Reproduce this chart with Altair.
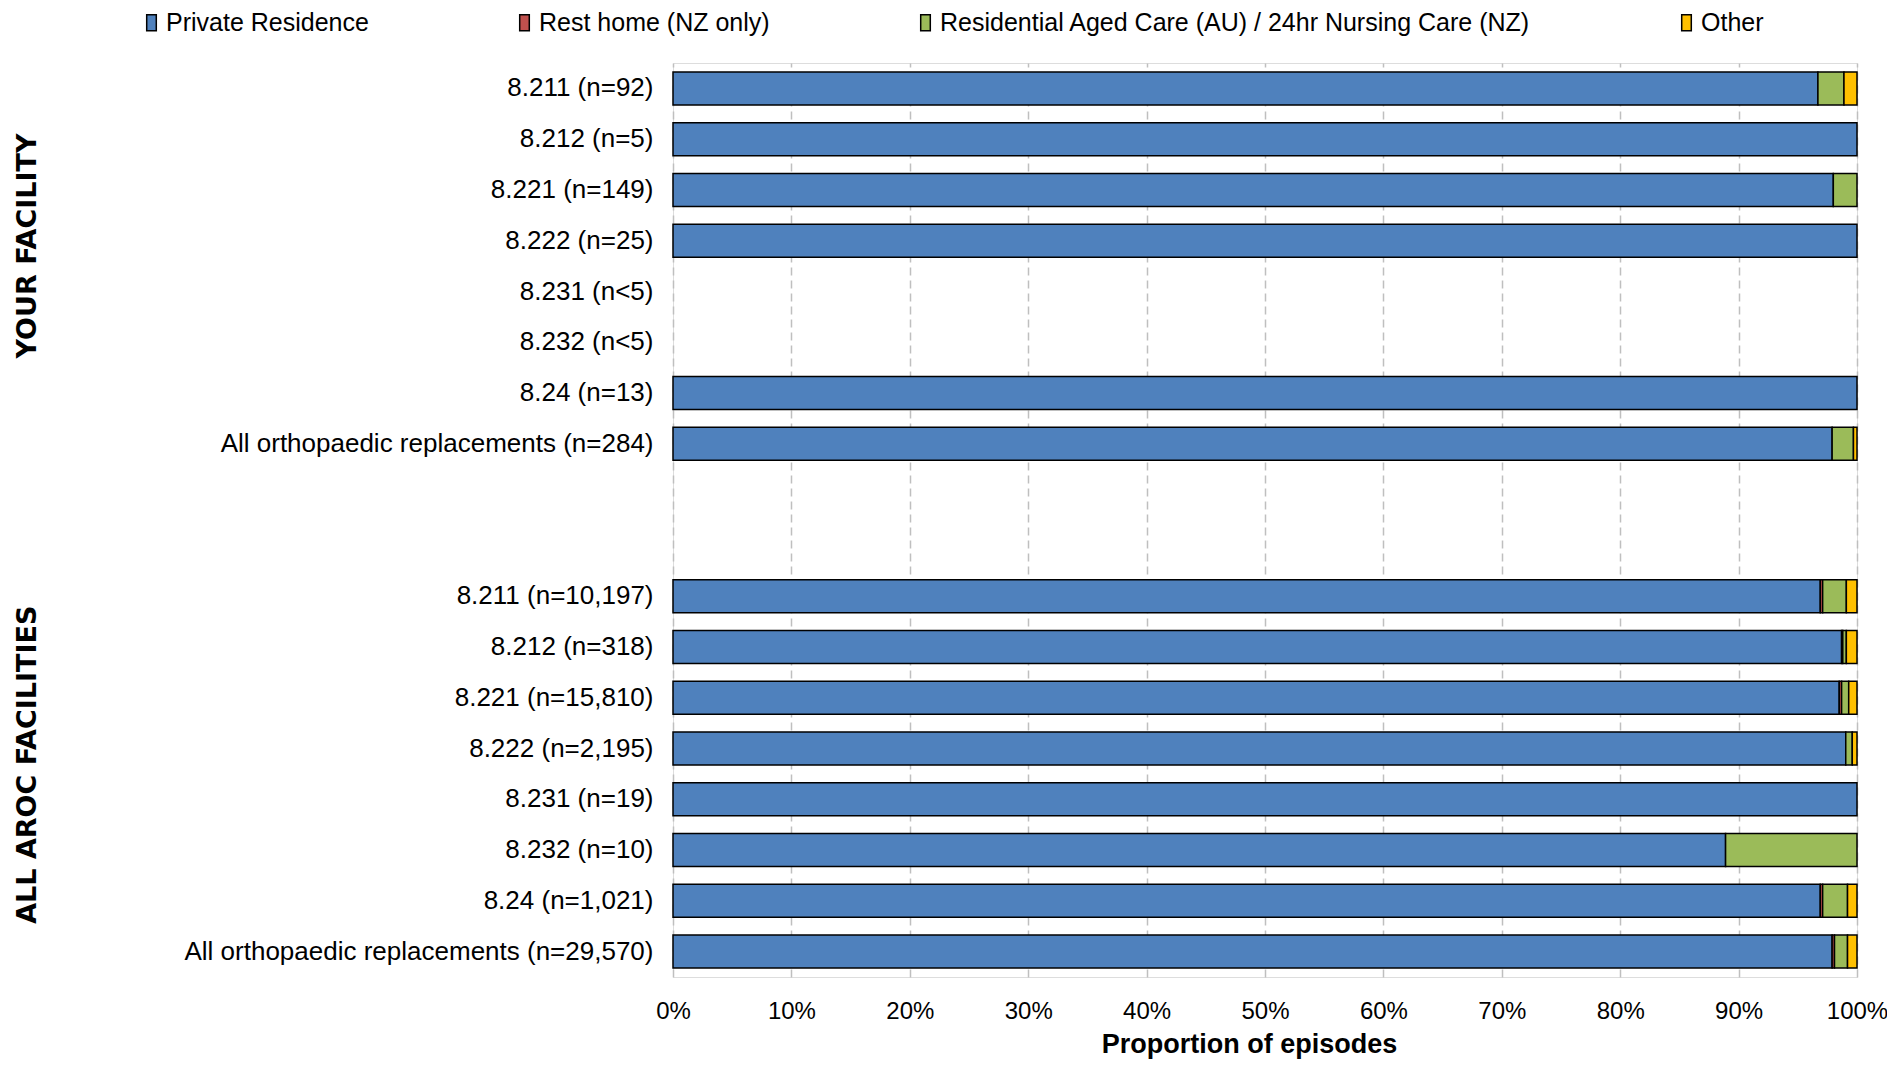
import altair as alt
import pandas as pd

categories = [
    "8.211 (n=92)", "8.212 (n=5)", "8.221 (n=149)", "8.222 (n=25)",
    "8.231 (n<5)", "8.232 (n<5)", "8.24 (n=13)", "All orthopaedic replacements (n=284)",
    " ", "  ",
    "8.211 (n=10,197)", "8.212 (n=318)", "8.221 (n=15,810)", "8.222 (n=2,195)",
    "8.231 (n=19)", "8.232 (n=10)", "8.24 (n=1,021)", "All orthopaedic replacements (n=29,570)",
]
series = ["Private Residence", "Rest home (NZ only)",
          "Residential Aged Care (AU) / 24hr Nursing Care (NZ)", "Other"]
colors = ["#4F81BD", "#C0504D", "#9BBB59", "#FFC000"]

private_residence = [96.7, 100, 98.0, 100, 0, 0, 100, 97.9, 0, 0,
                     96.9, 98.7, 98.5, 99.05, 100, 88.9, 96.9, 97.9]
rest_home = [0, 0, 0, 0, 0, 0, 0, 0, 0, 0,
             0.2, 0.1, 0.2, 0, 0, 0, 0.2, 0.2]
residential_care = [2.2, 0, 2.0, 0, 0, 0, 0, 1.8, 0, 0,
                    2.0, 0.3, 0.6, 0.55, 0, 11.1, 2.1, 1.1]
other = [1.1, 0, 0, 0, 0, 0, 0, 0.3, 0, 0,
         0.9, 0.9, 0.7, 0.4, 0, 0, 0.8, 0.8]

group_titles = ["YOUR FACILITY", "ALL AROC FACILITIES"]
group_anchors = ["8.222 (n=25)", "8.222 (n=2,195)"]

rows = []
for s_i, (s, vals) in enumerate(zip(series, [private_residence, rest_home, residential_care, other])):
    for c, v in zip(categories, vals):
        if v > 0:
            rows.append({"cat": c, "series": s, "value": v, "ord": s_i})
df = pd.DataFrame(rows)

FONT = "Liberation Sans"

y_enc = alt.Y("cat:N", sort=categories,
              scale=alt.Scale(domain=categories, paddingInner=0.35, paddingOuter=0.175),
              axis=alt.Axis(title=None, ticks=False, domain=False, labelPadding=20,
                            labelFont=FONT, labelFontSize=26, labelColor="black",
                            labelLimit=1000))

bars = alt.Chart(df).mark_bar(stroke="black", strokeWidth=1.5).encode(
    x=alt.X("value:Q", stack="zero",
            scale=alt.Scale(domain=[0, 100], nice=False),
            axis=alt.Axis(values=[0, 10, 20, 30, 40, 50, 60, 70, 80, 90, 100],
                          labelExpr="datum.value + '%'", title="Proportion of episodes",
                          ticks=False, domain=False, labelPadding=22,
                          labelFont=FONT, labelFontSize=24, labelColor="black",
                          titleFont=FONT, titleFontSize=27, titleFontWeight="bold",
                          titleColor="black", titlePadding=8, titleX=576,
                          grid=True, gridDash=[8, 5], gridColor="#BFBFBF", gridWidth=1.5,
                          labelFlush=False)),
    y=y_enc,
    color=alt.Color("series:N", scale=alt.Scale(domain=series, range=colors),
                    legend=alt.Legend(title=None, orient="none", legendX=-534, legendY=-53,
                                      direction="horizontal", columnPadding=143,
                                      symbolType="M-0.6,-1L0.6,-1L0.6,1L-0.6,1Z",
                                      symbolSize=256, symbolStrokeColor="black",
                                      symbolStrokeWidth=1.5, labelOffset=2,
                                      labelFont=FONT, labelFontSize=25, labelColor="black",
                                      labelLimit=2000, padding=0)),
    order=alt.Order("ord:Q"),
)

gdf1 = pd.DataFrame({"cat": [group_anchors[0]], "label": [group_titles[0]]})
gdf2 = pd.DataFrame({"cat": [group_anchors[1]], "label": [group_titles[1]]})

title_props = dict(angle=270, align="center", baseline="middle",
                   font="DejaVu Sans", fontSize=27, fontWeight="bold", color="black")

t1 = alt.Chart(gdf1).mark_text(**title_props).encode(
    x=alt.value(-645),
    y=alt.Y("cat:N", sort=categories, bandPosition=0.66),
    text="label:N",
)
t2 = alt.Chart(gdf2).mark_text(**title_props).encode(
    x=alt.value(-645),
    y=alt.Y("cat:N", sort=categories, bandPosition=0.99),
    text="label:N",
)

chart = alt.layer(bars, t1, t2).properties(
    width=1184, height=914,
    autosize=alt.AutoSizeParams(type="none"),
    padding={"left": 665, "top": 55, "right": 30, "bottom": 82},
).configure_view(stroke="#808080", strokeWidth=2).configure(background="white")

chart.save("out.html", embed_options={"renderer": "svg", "actions": False})
